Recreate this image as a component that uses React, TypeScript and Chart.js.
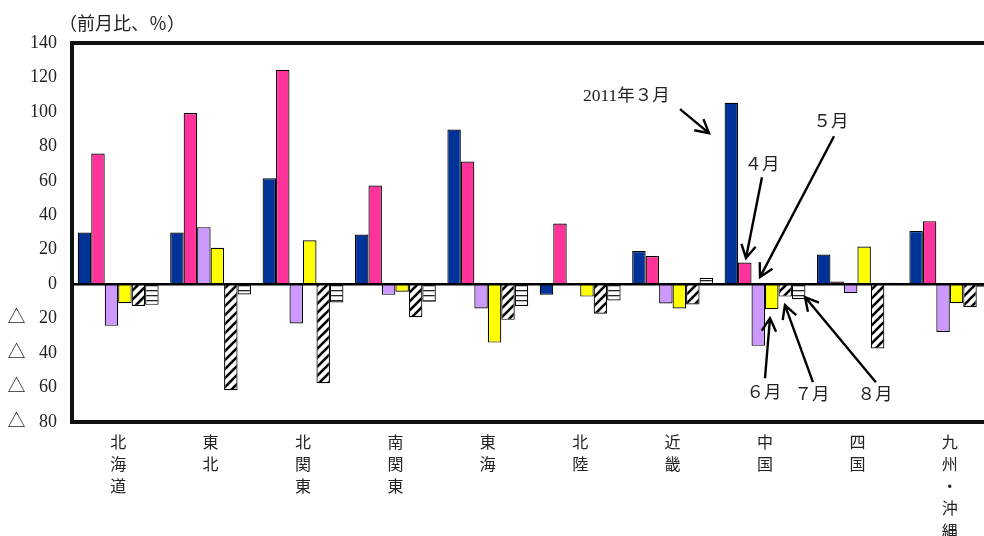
import React, { useEffect, useRef } from "react";
import { Chart, registerables } from "chart.js";

Chart.register(...registerables);

const regionNames = ["北海道", "東北", "北関東", "南関東", "東海", "北陸", "近畿", "中国", "四国", "九州・沖縄"];
const seriesNames = ["2011年３月", "４月", "５月", "６月", "７月", "８月"];
const mar = [30.0, 30.0, 61.5, 28.8, 89.8, -6.2, 19.2, 105.3, 17.2, 30.8];
const apr = [75.9, 99.3, 124.4, 57.3, 71.2, 35.2, 16.3, 12.6, 1.6, 36.6];
const may = [-24.2, 33.1, -22.8, -6.2, -14.1, 0, -11.2, -35.8, -5.2, -27.7];
const jun = [-11.0, 21.1, 25.5, -4.4, -33.9, -7.2, -14.1, -14.5, 21.9, -11.0];
const jul = [-12.6, -61.5, -57.5, -19.2, -20.7, -17.2, -11.8, -7.2, -37.3, -13.2];
const aug = [-12.0, -6.0, -10.6, -10.2, -12.6, -9.5, 3.7, -8.7, 0.8, -1.5];
const yTicks = [140, 120, 100, 80, 60, 40, 20, 0, -20, -40, -60, -80];
const yTitle = "（前月比、％）";

// annotation: label text, label anchor (category index, value), arrow start, arrow tip
const annotations = [
  { text: "2011年３月", label: [5.5, 109.0], from: [6.08, 101.6], to: [6.394, 87.7] },
  { text: "４月", label: [6.967, 69.0], from: [6.967, 62.1], to: [6.794, 15.1] },
  { text: "５月", label: [7.714, 94.0], from: [7.747, 85.9], to: [6.946, 4.1] },
  { text: "６月", label: [6.989, -63.5], from: [7.0, -54.6], to: [7.054, -19.7] },
  { text: "７月", label: [7.509, -64.7], from: [7.519, -56.9], to: [7.216, -12.2] },
  { text: "８月", label: [8.19, -64.7], from: [8.2, -56.9], to: [7.433, -7.5] },
];

const FONT = "'Liberation Serif', 'Noto Sans CJK JP', serif";

function makeDiagPattern(ctx: CanvasRenderingContext2D) {
  const c = document.createElement("canvas");
  c.width = 9;
  c.height = 9;
  const g = c.getContext("2d")!;
  g.fillStyle = "#fff";
  g.fillRect(0, 0, 9, 9);
  g.strokeStyle = "#000";
  g.lineWidth = 2.6;
  g.beginPath();
  g.moveTo(-2, 11);
  g.lineTo(11, -2);
  g.moveTo(-6, 6);
  g.lineTo(6, -6);
  g.moveTo(3, 15);
  g.lineTo(15, 3);
  g.stroke();
  return ctx.createPattern(c, "repeat")!;
}

function makeHorizPattern(ctx: CanvasRenderingContext2D) {
  const c = document.createElement("canvas");
  c.width = 4;
  c.height = 5;
  const g = c.getContext("2d")!;
  g.fillStyle = "#fff";
  g.fillRect(0, 0, 4, 5);
  g.fillStyle = "#222";
  g.fillRect(0, 0, 4, 1.3);
  return ctx.createPattern(c, "repeat")!;
}

function drawArrow(ctx: CanvasRenderingContext2D, x1: number, y1: number, x2: number, y2: number) {
  ctx.beginPath();
  ctx.moveTo(x1, y1);
  ctx.lineTo(x2, y2);
  const ang = Math.atan2(y2 - y1, x2 - x1);
  const len = 15;
  const spread = 0.5;
  ctx.moveTo(x2 - len * Math.cos(ang - spread), y2 - len * Math.sin(ang - spread));
  ctx.lineTo(x2, y2);
  ctx.lineTo(x2 - len * Math.cos(ang + spread), y2 - len * Math.sin(ang + spread));
  ctx.stroke();
}

const framePlugin = {
  id: "frame",
  afterDatasetsDraw(chart: any) {
    const { ctx, chartArea, scales } = chart;
    const y0 = scales.y.getPixelForValue(0);
    ctx.save();
    ctx.strokeStyle = "#000";
    ctx.lineWidth = 2.5;
    ctx.beginPath();
    ctx.moveTo(chartArea.left, y0);
    ctx.lineTo(chartArea.right, y0);
    ctx.stroke();
    ctx.lineWidth = 4;
    ctx.strokeStyle = "#111";
    ctx.strokeRect(chartArea.left, chartArea.top, chartArea.right - chartArea.left, chartArea.bottom - chartArea.top);
    // title
    ctx.fillStyle = "#222";
    ctx.font = "18px " + FONT;
    ctx.textAlign = "left";
    ctx.textBaseline = "middle";
    ctx.fillText(yTitle, chartArea.left - 13, chartArea.top - 18);
    // annotations
    ctx.font = "17.5px " + FONT;
    ctx.lineWidth = 2.4;
    ctx.strokeStyle = "#000";
    ctx.textAlign = "center";
    for (const a of annotations) {
      const lx = scales.x.getPixelForValue(a.label[0]);
      const ly = scales.y.getPixelForValue(a.label[1]);
      ctx.fillText(a.text, lx, ly);
      drawArrow(
        ctx,
        scales.x.getPixelForValue(a.from[0]),
        scales.y.getPixelForValue(a.from[1]),
        scales.x.getPixelForValue(a.to[0]),
        scales.y.getPixelForValue(a.to[1])
      );
    }
    ctx.restore();
  },
};

export default function App() {
  const ref = useRef<HTMLCanvasElement | null>(null);
  useEffect(() => {
    const canvas = ref.current!;
    const ctx = canvas.getContext("2d")!;
    const diag = makeDiagPattern(ctx);
    const horiz = makeHorizPattern(ctx);
    const values = [mar, apr, may, jun, jul, aug];
    const fills: any[] = ["#003399", "#FF3399", "#CC99FF", "#FFFF00", diag, horiz];
    const chart = new Chart(canvas, {
      type: "bar",
      data: {
        labels: regionNames.map((s) => Array.from(s)),
        datasets: values.map((v, i) => ({
          label: seriesNames[i],
          data: v,
          backgroundColor: fills[i],
          borderColor: "#000",
          borderWidth: 1.2,
          categoryPercentage: 0.875,
          barPercentage: 1,
        })),
      },
      options: {
        responsive: false,
        animation: false,
        layout: { padding: { top: 43, left: 0, right: 0, bottom: 0 } },
        plugins: { legend: { display: false }, tooltip: { enabled: false }, title: { display: false } },
        scales: {
          x: {
            grid: { display: false, drawTicks: false },
            border: { display: false },
            ticks: {
              color: "#222",
              font: { family: FONT, size: 16, lineHeight: 1.38 },
              padding: 11,
              maxRotation: 0,
              autoSkip: false,
            },
            afterFit: (s: any) => {
              s.height = 114;
            },
          },
          y: {
            min: -80,
            max: 140,
            afterBuildTicks: (s: any) => {
              s.ticks = yTicks.map((v) => ({ value: v }));
            },
            grid: { display: false, drawTicks: false },
            border: { display: false },
            ticks: {
              color: "#222",
              font: { family: FONT, size: 18 },
              padding: 15,
              callback: (v: any) => (v < 0 ? "△   " + -v : String(v)),
            },
            afterFit: (s: any) => {
              s.width = 72;
            },
          },
        },
      },
      plugins: [framePlugin],
    });
    return () => chart.destroy();
  }, []);
  return (
    <div style={{ position: "fixed", left: 0, top: 0, width: 984, height: 536, overflow: "hidden", background: "#fff" }}>
      <canvas ref={ref} width={996} height={536} style={{ display: "block" }} />
    </div>
  );
}
